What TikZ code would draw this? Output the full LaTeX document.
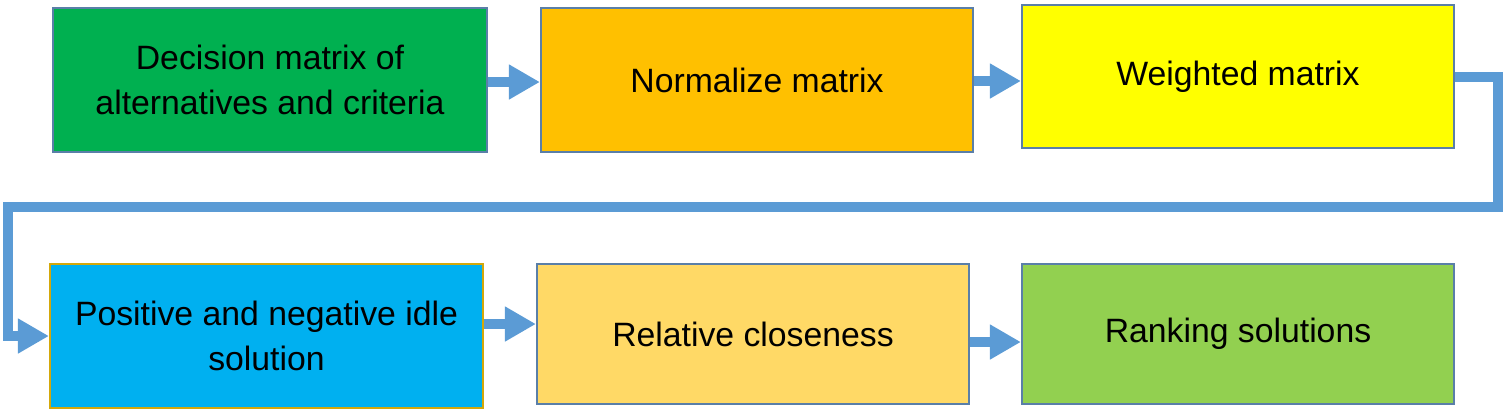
\documentclass[tikz,border=0pt]{standalone}
\usepackage{fontspec}
\setmainfont{Liberation Sans}
\usetikzlibrary{arrows.meta,calc}
\definecolor{cGreen}{HTML}{00B050}
\definecolor{cOrange}{HTML}{FFC000}
\definecolor{cYellow}{HTML}{FFFF00}
\definecolor{cCyan}{HTML}{00B0F0}
\definecolor{cGold}{HTML}{FFD966}
\definecolor{cLime}{HTML}{92D050}
\definecolor{cBorder}{HTML}{5A7FA8}
\definecolor{cGoldBorder}{HTML}{D4A80A}
\definecolor{cArrow}{HTML}{5B9BD5}
\tikzset{
  stepbox/.style={draw=cBorder, line width=0.55pt, rectangle, align=center,
    inner sep=0pt, font=\fontsize{9.6}{12.6}\selectfont},
  flowarrow/.style={draw=cArrow, line width=0.1cm, line join=miter,
    -{Triangle[length=0.31cm,width=0.33cm]}},
}
\begin{document}
\begin{tikzpicture}[x=0.01cm,y=-0.01cm]
\useasboundingbox (0,0) rectangle (1506,411);
\node[stepbox, fill=cGreen, minimum width=4.34cm, minimum height=1.44cm] (b1) at (270,80) {Decision matrix of\\alternatives and criteria};
\node[stepbox, fill=cOrange, minimum width=4.32cm, minimum height=1.44cm] (b2) at (757,80) {Normalize matrix};
\node[stepbox, fill=cYellow, minimum width=4.32cm, minimum height=1.43cm] (b3) at (1238,76.5) {Weighted matrix};
\node[stepbox, draw=cGoldBorder, fill=cCyan, minimum width=4.33cm, minimum height=1.44cm] (b4) at (266.5,336) {Positive and negative idle\\solution};
\node[stepbox, fill=cGold, minimum width=4.32cm, minimum height=1.40cm] (b5) at (753,334) {Relative closeness};
\node[stepbox, fill=cLime, minimum width=4.32cm, minimum height=1.40cm] (b6) at (1238,334) {Ranking solutions};
\coordinate (r) at (1498,207);
\coordinate (l) at (8,207);
\draw[flowarrow] ($(b1.east)+(0,2)$) -- ($(b1.east -| b2.west)+(0,2)$);
\draw[flowarrow] ($(b2.east)+(0,1)$) -- ($(b2.east -| b3.west)+(0,1)$);
\draw[flowarrow] (b3.east) -- (b3.east -| r) -- (r) -- (l) -- (l |- b4.west) -- (b4.west);
\draw[flowarrow] ($(b4.east)+(0,-12)$) -- ($(b4.east -| b5.west)+(0,-12)$);
\draw[flowarrow] ($(b5.east)+(0,8)$) -- ($(b5.east -| b6.west)+(0,8)$);
\end{tikzpicture}
\end{document}
